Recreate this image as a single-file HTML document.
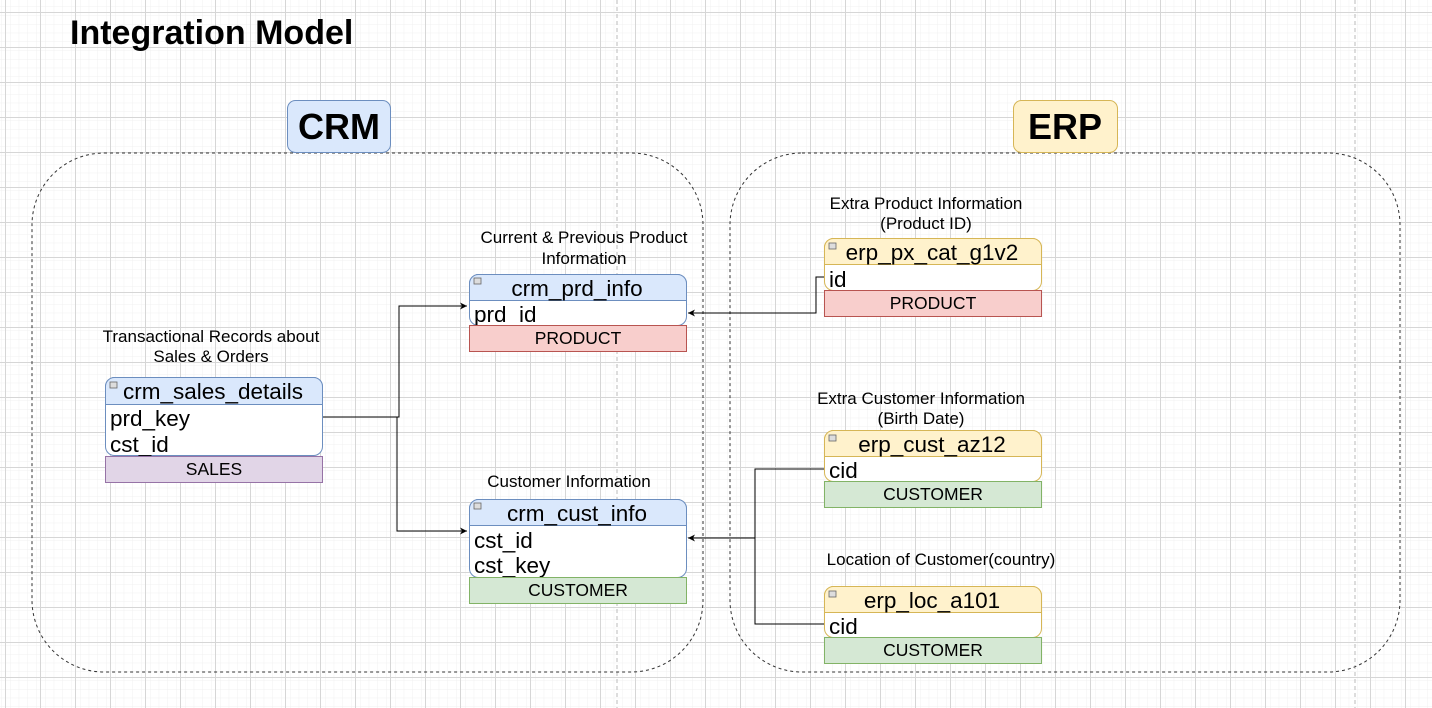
<!DOCTYPE html>
<html><head><meta charset="utf-8"><style>
html,body{margin:0;padding:0;background:#fff;}
svg{display:block;font-family:"Liberation Sans",Arial,sans-serif;}
</style></head><body>
<svg width="1432" height="708" viewBox="0 0 1432 708" xmlns="http://www.w3.org/2000/svg">
<defs>
<pattern id="minor" x="5" y="12" width="8.75" height="8.75" patternUnits="userSpaceOnUse">
<path d="M0 0H8.75M0 0V8.75" stroke="#f0f0f0" stroke-width="1" fill="none"/>
</pattern>
<pattern id="major" x="5" y="12" width="35" height="35" patternUnits="userSpaceOnUse">
<rect width="35" height="35" fill="url(#minor)"/>
<path d="M0 0.5H35M0.5 0V35" stroke="#d6d6d6" stroke-width="1" fill="none"/>
</pattern>
<marker id="ar" markerWidth="8" markerHeight="8" refX="7" refY="4" orient="auto" markerUnits="userSpaceOnUse">
<path d="M0 0.5L7 4L0 7.5L2 4Z" fill="#000"/>
</marker>
</defs>
<rect width="1432" height="708" fill="url(#major)"/>
<line x1="617" y1="0" x2="617" y2="708" stroke="#bbb" stroke-dasharray="4 3"/>
<line x1="1355" y1="0" x2="1355" y2="708" stroke="#bbb" stroke-dasharray="4 3"/>

<text x="70" y="44" font-size="34" font-weight="bold">Integration Model</text>

<rect x="32" y="153" width="671" height="519" rx="72" fill="none" stroke="#333" stroke-dasharray="3 3"/>
<rect x="730" y="153" width="670" height="519" rx="72" fill="none" stroke="#333" stroke-dasharray="3 3"/>

<rect x="287.5" y="100.5" width="103" height="52" rx="8" fill="#dae8fc" stroke="#6c8ebf"/>
<text x="339" y="139" font-size="36" font-weight="bold" text-anchor="middle">CRM</text>
<rect x="1013.5" y="100.5" width="104" height="52" rx="8" fill="#fff2cc" stroke="#d6b656"/>
<text x="1065" y="139" font-size="36" font-weight="bold" text-anchor="middle">ERP</text>

<g font-size="17" text-anchor="middle">
<text x="584" y="243">Current &amp; Previous Product</text>
<text x="584" y="264">Information</text>
<text x="211" y="342">Transactional Records about</text>
<text x="211" y="362">Sales &amp; Orders</text>
<text x="569" y="487">Customer Information</text>
<text x="926" y="209">Extra Product Information</text>
<text x="926" y="229">(Product ID)</text>
<text x="921" y="404">Extra Customer Information</text>
<text x="921" y="424">(Birth Date)</text>
<text x="941" y="565">Location of Customer(country)</text>
</g>

<g fill="none" stroke="#000" stroke-width="1">
<path d="M322 417H399V306H467" marker-end="url(#ar)"/>
<path d="M397 417V531H467" marker-end="url(#ar)"/>
<path d="M824 277H816V313H688" marker-end="url(#ar)"/>
<path d="M824 469H755V624H824"/>
<path d="M755 538H688" marker-end="url(#ar)"/>
</g>

<g>
<rect x="469.5" y="274.5" width="217" height="51" rx="9" fill="#fff" stroke="#6c8ebf"/>
<path d="M469.5 300.5V283.5a9 9 0 0 1 9-9H677.5a9 9 0 0 1 9 9V300.5Z" fill="#dae8fc" stroke="#6c8ebf"/>
<rect x="474" y="278" width="7" height="6" fill="#ddd" stroke="#666" stroke-width="0.8"/>
<text x="577" y="296" font-size="22.5" text-anchor="middle">crm_prd_info</text>
<text x="474" y="322" font-size="22.5">prd_id</text>
<rect x="469.5" y="325.5" width="217" height="26" fill="#f8cecc" stroke="#b85450"/>
<text x="578" y="344" font-size="17.5" text-anchor="middle">PRODUCT</text>
</g>

<g>
<rect x="105.5" y="377.5" width="217" height="78" rx="9" fill="#fff" stroke="#6c8ebf"/>
<path d="M105.5 404.5V386.5a9 9 0 0 1 9-9H313.5a9 9 0 0 1 9 9V404.5Z" fill="#dae8fc" stroke="#6c8ebf"/>
<rect x="110" y="382" width="7" height="6" fill="#ddd" stroke="#666" stroke-width="0.8"/>
<text x="213" y="399" font-size="22.5" text-anchor="middle">crm_sales_details</text>
<text x="110" y="426" font-size="22.5">prd_key</text>
<text x="110" y="452" font-size="22.5">cst_id</text>
<rect x="105.5" y="456.5" width="217" height="26" fill="#e1d5e7" stroke="#9673a6"/>
<text x="214" y="475" font-size="17.5" text-anchor="middle">SALES</text>
</g>

<g>
<rect x="469.5" y="499.5" width="217" height="78" rx="9" fill="#fff" stroke="#6c8ebf"/>
<path d="M469.5 525.5V508.5a9 9 0 0 1 9-9H677.5a9 9 0 0 1 9 9V525.5Z" fill="#dae8fc" stroke="#6c8ebf"/>
<rect x="474" y="503" width="7" height="6" fill="#ddd" stroke="#666" stroke-width="0.8"/>
<text x="577" y="521" font-size="22.5" text-anchor="middle">crm_cust_info</text>
<text x="474" y="548" font-size="22.5">cst_id</text>
<text x="474" y="573" font-size="22.5">cst_key</text>
<rect x="469.5" y="577.5" width="217" height="26" fill="#d5e8d4" stroke="#82b366"/>
<text x="578" y="596" font-size="17.5" text-anchor="middle">CUSTOMER</text>
</g>

<g>
<rect x="824.5" y="238.5" width="217" height="52" rx="9" fill="#fff" stroke="#d6b656"/>
<path d="M824.5 264.5V247.5a9 9 0 0 1 9-9H1032.5a9 9 0 0 1 9 9V264.5Z" fill="#fff2cc" stroke="#d6b656"/>
<rect x="829" y="243" width="7" height="6" fill="#ddd" stroke="#666" stroke-width="0.8"/>
<text x="932" y="260" font-size="22.5" text-anchor="middle">erp_px_cat_g1v2</text>
<text x="829" y="287" font-size="22.5">id</text>
<rect x="824.5" y="290.5" width="217" height="26" fill="#f8cecc" stroke="#b85450"/>
<text x="933" y="309" font-size="17.5" text-anchor="middle">PRODUCT</text>
</g>

<g>
<rect x="824.5" y="430.5" width="217" height="51" rx="9" fill="#fff" stroke="#d6b656"/>
<path d="M824.5 456.5V439.5a9 9 0 0 1 9-9H1032.5a9 9 0 0 1 9 9V456.5Z" fill="#fff2cc" stroke="#d6b656"/>
<rect x="829" y="435" width="7" height="6" fill="#ddd" stroke="#666" stroke-width="0.8"/>
<text x="932" y="452" font-size="22.5" text-anchor="middle">erp_cust_az12</text>
<text x="829" y="478" font-size="22.5">cid</text>
<rect x="824.5" y="481.5" width="217" height="26" fill="#d5e8d4" stroke="#82b366"/>
<text x="933" y="500" font-size="17.5" text-anchor="middle">CUSTOMER</text>
</g>

<g>
<rect x="824.5" y="586.5" width="217" height="51" rx="9" fill="#fff" stroke="#d6b656"/>
<path d="M824.5 612.5V595.5a9 9 0 0 1 9-9H1032.5a9 9 0 0 1 9 9V612.5Z" fill="#fff2cc" stroke="#d6b656"/>
<rect x="829" y="591" width="7" height="6" fill="#ddd" stroke="#666" stroke-width="0.8"/>
<text x="932" y="608" font-size="22.5" text-anchor="middle">erp_loc_a101</text>
<text x="829" y="634" font-size="22.5">cid</text>
<rect x="824.5" y="637.5" width="217" height="26" fill="#d5e8d4" stroke="#82b366"/>
<text x="933" y="656" font-size="17.5" text-anchor="middle">CUSTOMER</text>
</g>
</svg>
</body></html>
